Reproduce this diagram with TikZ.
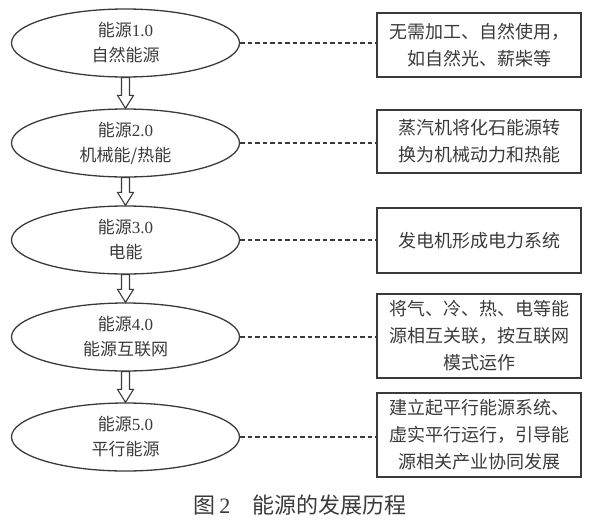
\documentclass[tikz,border=0pt]{standalone}
\usepackage{fontspec}
\setmainfont{Liberation Serif}
\newfontfamily\cjk{Noto Sans CJK SC}
\usetikzlibrary{positioning, calc, shapes.geometric}
\definecolor{Ink}{HTML}{3A3A3A}
\tikzset{
    stage/.style={ellipse, draw=Ink, line width=1.3pt, minimum width=228pt, minimum height=68pt, inner sep=0pt, align=center, text=Ink, font=\cjk\fontsize{17}{25}\selectfont},
    note/.style={rectangle, draw=Ink, line width=1.6pt, minimum width=204pt, inner sep=4pt, align=center, text=Ink, font=\cjk\fontsize{18}{27}\selectfont},
    link/.style={dash pattern=on 4.5pt off 3pt, line width=1.2pt, color=Ink},
    hollow/.style={draw=Ink, fill=white, line width=1.1pt, line join=miter},
}

\begin{document}
\begin{tikzpicture}[x=1pt, y=-1pt]
    \useasboundingbox (0,0) rectangle (597,520);
    % stages
    \node[stage] (e1) at (125.5,43)  {能源{\rmfamily 1.0}\\自然能源};
    \node[stage] (e2) at (125.5,143) {能源{\rmfamily 2.0}\\机械能/热能};
    \node[stage] (e3) at (125.5,240) {能源{\rmfamily 3.0}\\电能};
    \node[stage] (e4) at (125.5,337) {能源{\rmfamily 4.0}\\能源互联网};
    \node[stage] (e5) at (125.5,437) {能源{\rmfamily 5.0}\\平行能源};
    % notes
    \node[note, minimum height=64pt] (n1) at (479,45)    {无需加工、自然使用，\\如自然光、薪柴等};
    \node[note, minimum height=63pt] (n2) at (479,141.5) {蒸汽机将化石能源转\\换为机械动力和热能};
    \node[note, minimum height=65pt] (n3) at (479,240.5) {发电机形成电力系统};
    \node[note, minimum height=84pt] (n4) at (479,336)   {将气、冷、热、电等能\\源相互关联，按互联网\\模式运作};
    \node[note, minimum height=84pt] (n5) at (479,435)   {建立起平行能源系统、\\虚实平行运行，引导能\\源相关产业协同发展};

    \foreach \i in {1,...,5} \draw[link] (e\i.east) -- (e\i.east -| n\i.west);
    \foreach \i/\j in {1/2,2/3,3/4,4/5}
        \draw[hollow] ($(e\i.south)+(-4,0)$) -- ($(e\j.north)+(-4,-13)$) -- ++(-4,0)
            -- (e\j.north) -- ($(e\j.north)+(8,-13)$) -- ++(-4,0) -- ($(e\i.south)+(4,0)$) -- cycle;

    \node[font=\cjk\fontsize{22}{22}\selectfont, text=Ink] (cap) at (300,505) {图\,{\rmfamily 2}\quad 能源的发展历程};
\end{tikzpicture}
\end{document}
